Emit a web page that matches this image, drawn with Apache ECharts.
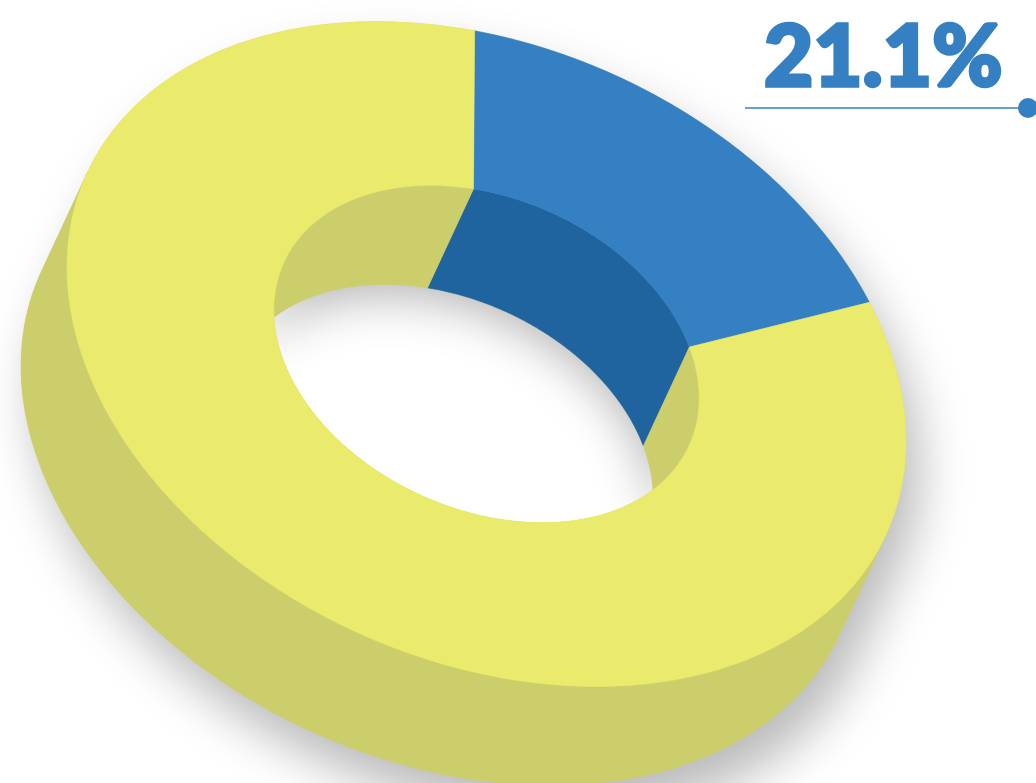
<!DOCTYPE html>
<html>
<head>
<meta charset="utf-8">
<style>
  html, body { margin: 0; padding: 0; background: #fff; overflow: hidden; }
  #chart { width: 1036px; height: 783px; }
</style>
<script src="https://cdn.jsdelivr.net/npm/echarts@6/dist/echarts.min.js"></script>
</head>
<body>
<div id="chart"></div>
<script>
// Ring shares, in percent, clockwise from the upper spoke
const categories = ['Highlighted share', 'Remainder'];
const shareValues = [21.1, 78.9];

const topColors = ['#3580C3', '#EAEA6D'];
const wallColors = ['#1F649F', '#CCCE6C'];
const labelColor = '#3580C3';

// Oblique view of the ring: ellipse centre, linear map of the unit circle,
// hole ratio, extrusion vector and the point the spokes recede from
const centre = [486.5, 354];
const tilt = { xx: 419.5, yx: 87, yy: 320.9 };
const holeRatio = 0.507;
const depth = [-46, 99];
const spokeOrigin = [472, 401];
const startAngle = -93.5 * Math.PI / 180;

const TAU = Math.PI * 2;
const total = shareValues.reduce((a, b) => a + b, 0);

const toScreen = (t, k, off) => [
  centre[0] + k * tilt.xx * Math.cos(t) + (off ? off[0] : 0),
  centre[1] + k * (tilt.yx * Math.cos(t) + tilt.yy * Math.sin(t)) + (off ? off[1] : 0)
];
const toCircle = (p) => {
  const x = p[0] / tilt.xx;
  return [x, (p[1] - tilt.yx * x) / tilt.yy];
};
const depthDir = (() => { const d = toCircle(depth); return Math.atan2(d[1], d[0]); })();

// Angle on the outer rim reached by the spoke leaving a point on the hole's rim
function rimAngle(t) {
  const a = toCircle([spokeOrigin[0] - centre[0], spokeOrigin[1] - centre[1]]);
  const p = [holeRatio * Math.cos(t), holeRatio * Math.sin(t)];
  const d = [p[0] - a[0], p[1] - a[1]];
  const A = d[0] * d[0] + d[1] * d[1];
  const B = a[0] * d[0] + a[1] * d[1];
  const C = a[0] * a[0] + a[1] * a[1] - 1;
  const s = (-B + Math.sqrt(B * B - A * C)) / A;
  return Math.atan2(a[1] + s * d[1], a[0] + s * d[0]);
}

function arc(t0, t1, k, off) {
  const n = Math.max(2, Math.ceil(Math.abs(t1 - t0) / 0.01));
  const pts = [];
  for (let i = 0; i <= n; i++) pts.push(toScreen(t0 + (t1 - t0) * i / n, k, off));
  return pts;
}

// Parts of [t0, t1] that fall in a half turn beginning at `from`
function clipHalf(t0, t1, from) {
  const parts = [];
  for (let turn = -2; turn <= 2; turn++) {
    const lo = Math.max(t0, from + turn * TAU);
    const hi = Math.min(t1, from + Math.PI + turn * TAU);
    if (hi > lo) parts.push([lo, hi]);
  }
  return parts;
}

const farStart = depthDir + Math.PI / 2;
const nearStart = depthDir - Math.PI / 2;

function extruded(t0, t1, k, z2, fill) {
  return {
    type: 'polygon', z2: z2,
    shape: { points: arc(t0, t1, k).concat(arc(t1, t0, k, depth)) },
    style: { fill: fill, stroke: fill, lineWidth: 0.5 }
  };
}

function renderShell() {
  return {
    type: 'group',
    children: [
      {
        type: 'polygon', z2: 1,
        shape: { points: arc(farStart, farStart + Math.PI, 1).concat(arc(nearStart + TAU, nearStart + TAU + Math.PI, 1, depth)) },
        style: {
          fill: wallColors[1],
          shadowBlur: 50, shadowOffsetX: 14, shadowOffsetY: 30, shadowColor: 'rgba(0,0,0,0.27)'
        }
      },
      {
        type: 'polygon', z2: 3,
        shape: { points: arc(0, TAU, holeRatio) },
        style: { fill: '#ffffff' }
      },
      {
        type: 'polygon', z2: 4,
        shape: { points: arc(farStart, farStart + Math.PI, holeRatio).concat(arc(farStart + Math.PI, farStart, holeRatio, depth)) },
        style: {
          fill: wallColors[1],
          shadowBlur: 50, shadowOffsetX: 2, shadowOffsetY: 10, shadowColor: 'rgba(0,0,0,0.3)'
        }
      }
    ]
  };
}

function renderSlice(params, api) {
  const i = params.dataIndex;
  const before = shareValues.slice(0, i).reduce((a, b) => a + b, 0);
  const t0 = startAngle + before / total * TAU;
  const t1 = t0 + api.value(0) / total * TAU;
  const o0 = rimAngle(t0);
  let o1 = rimAngle(t1);
  while (o1 <= o0) o1 += TAU;

  const children = [];
  clipHalf(o0, o1, nearStart).forEach((r) => children.push(extruded(r[0], r[1], 1, 2, wallColors[i])));
  clipHalf(t0, t1, farStart).forEach((r) => children.push(extruded(r[0], r[1], holeRatio, 5, wallColors[i])));
  children.push({
    type: 'polygon', z2: 6,
    shape: { points: arc(o0, o1, 1).concat(arc(t1, t0, holeRatio)) },
    style: { fill: topColors[i], stroke: topColors[i], lineWidth: 0.5 }
  });

  if (i === 0) {
    children.push({
      type: 'text', z2: 8, x: 764, y: 16,
      style: {
        text: api.value(0).toFixed(1) + '%',
        fill: labelColor,
        stroke: labelColor,
        lineWidth: 3.5,
        font: '900 85px Lato',
        textAlign: 'left'
      }
    });
    children.push({
      type: 'line', z2: 8,
      shape: { x1: 745, y1: 108, x2: 1028, y2: 108 },
      style: { stroke: labelColor, lineWidth: 1.3 }
    });
    children.push({
      type: 'circle', z2: 8,
      shape: { cx: 1028, cy: 108, r: 10 },
      style: { fill: labelColor }
    });
  }
  return { type: 'group', children: children };
}

const chart = echarts.init(document.getElementById('chart'), null, { renderer: 'canvas' });
chart.setOption({
  animation: false,
  backgroundColor: '#ffffff',
  series: [
    {
      type: 'custom', coordinateSystem: 'none', silent: true, clip: false,
      data: [total], renderItem: renderShell
    },
    {
      type: 'custom', coordinateSystem: 'none', silent: true, clip: false,
      data: categories.map((name, i) => ({ name: name, value: shareValues[i] })),
      renderItem: renderSlice
    }
  ]
});
</script>
</body>
</html>
